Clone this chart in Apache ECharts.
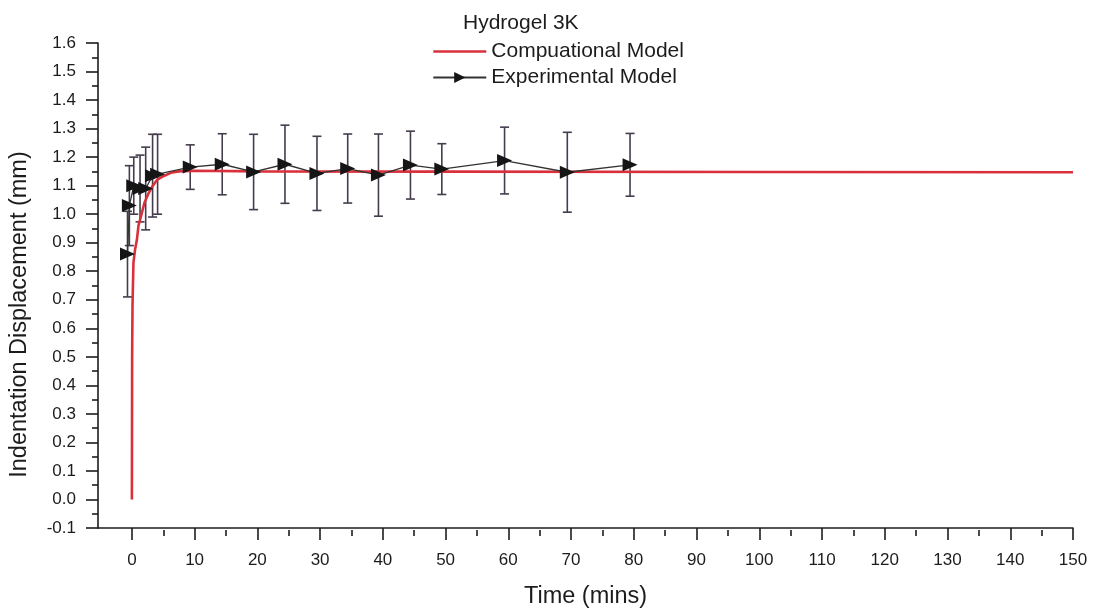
<!DOCTYPE html>
<html>
<head>
<meta charset="utf-8">
<script src="https://cdn.jsdelivr.net/npm/echarts@6/dist/echarts.min.js"></script>
<style>
html,body{margin:0;padding:0;background:#fff;}
#chart{width:1105px;height:614px;}
</style>
</head>
<body>
<div id="chart"></div>
<script>
// ---- data ----
const chartTitle = 'Hydrogel 3K';
const seriesNames = ['Compuational Model', 'Experimental Model'];

// computational model curve (time in mins, displacement in mm)
const modelTime = [0, 0.04, 0.1, 0.25, 0.5, 0.8, 1.05, 1.6, 2.0, 2.7, 3.2, 4.0, 5.0, 6.2, 7.5, 10, 20, 50, 100, 150];
const modelVal  = [0, 0.50, 0.68, 0.83, 0.875, 0.91, 0.96, 1.005, 1.04, 1.075, 1.095, 1.12, 1.133, 1.145, 1.150, 1.152, 1.150, 1.149, 1.148, 1.147];

// experimental measurements with error (±)
const expTime = [-0.7, -0.4, 0.3, 1.3, 2.2, 3.3, 4.1, 9.3, 14.4, 19.4, 24.4, 29.5, 34.4, 39.3, 44.4, 49.4, 59.4, 69.4, 79.4];
const expVal  = [0.86, 1.03, 1.10, 1.09, 1.09, 1.135, 1.14, 1.165, 1.175, 1.148, 1.175, 1.143, 1.16, 1.137, 1.172, 1.158, 1.188, 1.147, 1.173];
const expErr  = [0.15, 0.14, 0.10, 0.117, 0.145, 0.145, 0.14, 0.078, 0.107, 0.132, 0.137, 0.13, 0.121, 0.144, 0.119, 0.089, 0.117, 0.14, 0.11];

// axis ticks
const xMajorTicks = [0, 10, 20, 30, 40, 50, 60, 70, 80, 90, 100, 110, 120, 130, 140, 150];
const xMinorTicks = [5, 15, 25, 35, 45, 55, 65, 75, 85, 95, 105, 115, 125, 135, 145];
const xName = 'Time (mins)';
const yName = 'Indentation Displacement (mm)';

// ---- build ----
const FONT = '"Liberation Sans", Arial, sans-serif';
const INK = '#1c1c1c';
const modelData = modelTime.map((t, i) => [t, modelVal[i]]);
const expData = expTime.map((t, i) => [t, expVal[i]]);
const errData = expTime.map((t, i) => [t, expVal[i] - expErr[i], expVal[i] + expErr[i]]);

const gridPos = {left: 98, right: 32, top: 43, bottom: 84};
const XMIN = -5.4, XMAX = 150;

const chart = echarts.init(document.getElementById('chart'), null, {renderer: 'canvas'});
chart.setOption({
  animation: false,
  backgroundColor: '#fff',
  textStyle: {fontFamily: FONT},
  title: {
    text: chartTitle, left: 458, top: 8,
    textStyle: {fontSize: 21, fontWeight: 'normal', color: INK, fontFamily: FONT}
  },
  legend: {
    orient: 'vertical', left: 427, top: 36,
    itemWidth: 53, itemHeight: 14, itemGap: 5,
    data: [
      {name: seriesNames[0], itemStyle: {opacity: 0}, lineStyle: {width: 2.6}},
      {name: seriesNames[1]}
    ],
    textStyle: {fontSize: 21, color: INK, fontFamily: FONT}
  },
  grid: [
    Object.assign({}, gridPos),
    Object.assign({}, gridPos)
  ],
  xAxis: [{
    type: 'value', gridIndex: 0, min: XMIN, max: XMAX,
    name: xName, nameLocation: 'middle', nameGap: 57,
    nameTextStyle: {fontSize: 23.5, color: INK, fontFamily: FONT},
    axisLine: {show: true, onZero: false, lineStyle: {color: INK, width: 1.6}},
    axisTick: {show: true, inside: false, length: 12, customValues: xMajorTicks, lineStyle: {color: INK, width: 1.6}},
    axisLabel: {show: true, customValues: xMajorTicks, fontSize: 17, margin: 24, color: INK, fontFamily: FONT},
    splitLine: {show: false}
  }, {
    type: 'value', gridIndex: 1, min: XMIN, max: XMAX, position: 'bottom',
    axisLine: {show: false, onZero: false},
    axisTick: {show: true, inside: false, length: 6, customValues: xMinorTicks, lineStyle: {color: INK, width: 1.6}},
    axisLabel: {show: false},
    splitLine: {show: false}
  }],
  yAxis: [{
    type: 'value', gridIndex: 0, min: -0.1, max: 1.6, interval: 0.1,
    name: yName, nameLocation: 'middle', nameGap: 66,
    nameTextStyle: {fontSize: 23.5, color: INK, fontFamily: FONT, padding: [0, 58, 0, 0]},
    axisLine: {show: true, onZero: false, lineStyle: {color: INK, width: 1.6}},
    axisTick: {show: true, inside: false, length: 12, lineStyle: {color: INK, width: 1.6}},
    minorTick: {show: true, splitNumber: 2, length: 6, lineStyle: {color: INK, width: 1.6}},
    axisLabel: {fontSize: 17, margin: 22, color: INK, fontFamily: FONT,
      formatter: v => (Math.abs(v) < 1e-9 ? 0 : v).toFixed(1)},
    splitLine: {show: false}
  }, {
    type: 'value', gridIndex: 1, min: -0.1, max: 1.6, show: false
  }],
  series: [{
    name: 'errorbars',
    type: 'custom',
    xAxisIndex: 0, yAxisIndex: 0,
    z: 2,
    encode: {x: 0, y: [1, 2]},
    data: errData,
    renderItem: function (params, api) {
      const x = api.value(0);
      const top = api.coord([x, api.value(2)]);
      const bot = api.coord([x, api.value(1)]);
      const cw = 4.5;
      const st = {stroke: '#453c4d', lineWidth: 1.6};
      return {
        type: 'group',
        children: [
          {type: 'line', shape: {x1: top[0], y1: top[1], x2: bot[0], y2: bot[1]}, style: st},
          {type: 'line', shape: {x1: top[0] - cw, y1: top[1], x2: top[0] + cw, y2: top[1]}, style: st},
          {type: 'line', shape: {x1: bot[0] - cw, y1: bot[1], x2: bot[0] + cw, y2: bot[1]}, style: st}
        ]
      };
    }
  }, {
    name: seriesNames[0],
    type: 'line',
    xAxisIndex: 0, yAxisIndex: 0,
    z: 3,
    data: modelData,
    symbol: 'none',
    smooth: false,
    lineStyle: {color: '#d9303c', width: 2.6},
    itemStyle: {color: '#d9303c'}
  }, {
    name: seriesNames[1],
    type: 'line',
    xAxisIndex: 0, yAxisIndex: 0,
    z: 4,
    data: expData,
    symbol: 'triangle',
    symbolRotate: -90,
    symbolSize: [13, 15],
    showAllSymbol: true,
    lineStyle: {color: '#333', width: 1.3},
    itemStyle: {color: '#151515'}
  }]
});
</script>
</body>
</html>
